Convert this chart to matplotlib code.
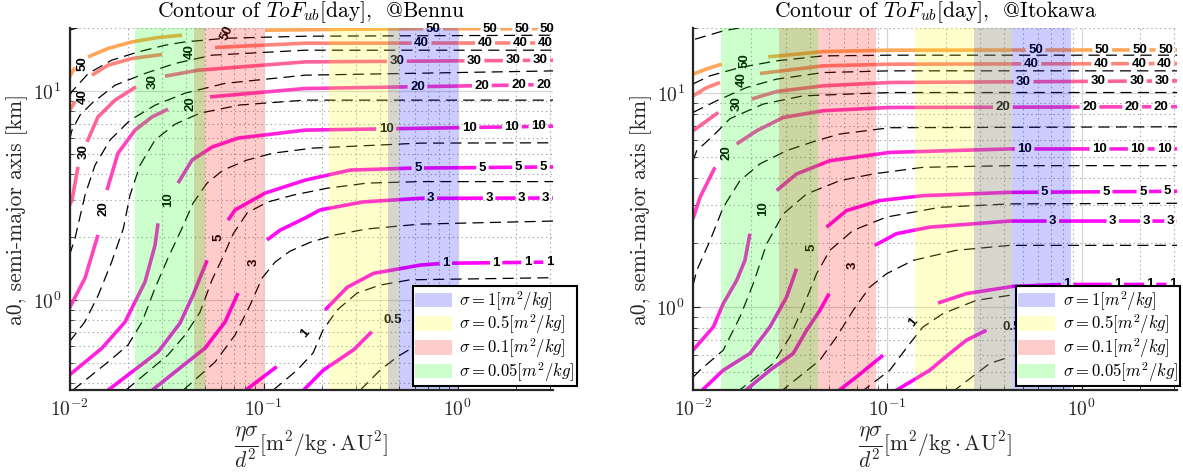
import numpy as np
import matplotlib
matplotlib.use("Agg")
import matplotlib.pyplot as plt
from matplotlib.patches import Patch

plt.rcParams['font.family'] = ['cmr10', 'DejaVu Serif']
plt.rcParams['mathtext.fontset'] = 'cm'
plt.rcParams['axes.formatter.use_mathtext'] = True
plt.rcParams['axes.unicode_minus'] = False
plt.rcParams['lines.scale_dashes'] = False

# sigma bands, drawn over eta*sigma/d^2 = sigma * [eta_lo, eta_hi]
sigmas = [1, 0.5, 0.1, 0.05]
band_colors = [(0, 0, 1), (1, 1, 0), (1, 0, 0), (0, 1, 0)]
bennu_eta = (0.436, 1.0)
itokawa_eta = (0.278, 0.88)

# ---------------- Bennu ----------------
# ToF_ub contours (solid), split where the inline labels sit
bennu_solid = {
    0.5: [[(0.1573, 0.363), (0.2033, 0.462), (0.2904, 0.577), (0.3611, 0.705)]],
    1: [[(0.0787, 0.363), (0.1169, 0.480)],
        [(0.2075, 0.896), (0.2694, 1.15), (0.3681, 1.342), (0.6406, 1.47), (0.842, 1.50), (3.2, 1.52)]],
    3: [[(0.02662, 0.37), (0.04995, 0.589), (0.06331, 0.785), (0.07388, 1.08)],
        [(0.1042, 1.94), (0.1216, 2.16), (0.1636, 2.47), (0.1955, 2.70), (0.3257, 2.95), (0.6406, 3.07), (3.2, 3.08)]],
    5: [[(0.01579, 0.37), (0.02859, 0.564), (0.03713, 0.776), (0.04331, 1.056), (0.05114, 1.55)],
        [(0.06561, 2.41), (0.0713, 2.70), (0.1018, 3.25), (0.1636, 3.75), (0.2792, 4.19), (0.569, 4.28), (3.2, 4.34)]],
    10: [[(0.01, 0.438), (0.01471, 0.589), (0.01932, 0.785), (0.02449, 1.22), (0.02759, 1.83), (0.02859, 2.33)],
         [(0.03625, 3.63), (0.04279, 4.68), (0.05426, 5.40), (0.07388, 5.96), (0.1636, 6.51), (3.2, 6.80)]],
    20: [[(0.01, 0.916), (0.01202, 1.274), (0.01402, 2.05)],
         [(0.0156, 3.36), (0.01778, 5.05), (0.02177, 6.51), (0.02662, 7.53), (0.03218, 8.20)],
         [(0.05298, 9.39), (0.1636, 10.30), (3.2, 10.77)]],
    30: [[(0.01, 2.85), (0.0103, 3.01), (0.01106, 4.34)],
         [(0.01231, 5.72), (0.01402, 7.53), (0.01716, 9.06), (0.02203, 10.49)],
         [(0.03106, 11.80), (0.04597, 12.60), (0.1636, 13.81), (3.2, 14.07)]],
    40: [[(0.01, 8.11), (0.01068, 8.89)],
         [(0.01306, 11.93), (0.01579, 13.32), (0.02101, 14.34), (0.02998, 14.98)],
         [(0.05623, 16.19), (0.1636, 16.97), (3.2, 17.02)]],
    50: [[(0.01, 11.70), (0.01068, 13.0)],
         [(0.01246, 14.59), (0.01579, 16.01), (0.02101, 17.22), (0.02859, 18.07), (0.03802, 18.53)],
         [(0.1018, 19.58), (0.2792, 19.80), (0.664, 19.91), (3.2, 19.91)]],
}

# reference contours (dashed)
bennu_dashed = {
    'top': [(0.01, 19.58), (0.01133, 20.3)],
    50: [(0.01, 9.46), (0.01026, 9.93), (0.0125, 12.16), (0.0165, 14.07), (0.02263, 15.42), (0.03106, 16.60),
         (0.03939, 17.22), (0.06406, 17.93), (0.1636, 18.33), (3.2, 18.53)],
    40: [(0.01, 5.84), (0.0103, 6.51), (0.01133, 7.68), (0.01306, 8.76), (0.01716, 10.68), (0.02449, 12.16),
         (0.03497, 13.57), (0.05426, 14.87), (0.1636, 15.71), (3.2, 15.71)],
    30: [(0.01, 1.64), (0.01068, 1.98), (0.01202, 3.18), (0.01353, 4.42), (0.01618, 5.84), (0.02051, 7.26),
         (0.02759, 8.57), (0.03939, 9.78), (0.06331, 10.9), (0.1636, 11.93), (3.2, 12.51)],
    20: [(0.01, 0.632), (0.01202, 0.788), (0.01407, 1.056), (0.0165, 1.525), (0.01894, 2.20), (0.02051, 3.18),
         (0.02308, 4.42), (0.02759, 5.84), (0.03497, 6.95), (0.04708, 7.85), (0.07566, 8.59), (0.1636, 9.06),
         (3.2, 9.06)],
    10: [(0.0104, 0.37), (0.01579, 0.505), (0.02002, 0.609), (0.02364, 0.785), (0.02759, 1.14), (0.03218, 1.59),
         (0.03802, 2.21), (0.04331, 2.91), (0.05114, 3.63), (0.06183, 4.19), (0.08221, 4.68), (0.1119, 5.05),
         (0.1799, 5.34), (0.6406, 5.64), (3.2, 5.66)],
    5: [(0.0195, 0.37), (0.03218, 0.546), (0.03939, 0.680), (0.04708, 0.876), (0.05426, 1.25), (0.06183, 1.61),
        (0.06963, 2.07), (0.08221, 2.61), (0.1042, 2.94), (0.142, 3.18), (0.2125, 3.43), (0.3416, 3.63),
        (0.6406, 3.69), (3.2, 3.69)],
    3: [(0.0385, 0.37), (0.05623, 0.505), (0.0713, 0.680), (0.0852, 0.946), (0.09824, 1.274), (0.1146, 1.52),
        (0.137, 1.715), (0.1737, 1.89), (0.2337, 2.05), (0.3416, 2.19), (0.6406, 2.31), (3.2, 2.39)],
    1: [(0.1119, 0.37), (0.1489, 0.462), (0.1799, 0.558), (0.2026, 0.719), (0.2393, 0.896), (0.3034, 1.08),
        (0.3986, 1.18), (0.569, 1.25), (3.2, 1.28)],
    0.5: [(0.3144, 0.37), (0.3986, 0.462), (0.4877, 0.534), (0.6406, 0.623)],
}

# labels on the curved part: (level, x, y, rotation)
bennu_steep_labels = [
    (50, 0.01174, 13.61, 90), (40, 0.01176, 9.39, 90), (30, 0.01176, 5.13, 90), (20, 0.01493, 2.75, 90),
    (50, 0.0646, 18.88, 65), (40, 0.04178, 15.42, 90), (30, 0.02673, 11.08, 90), (20, 0.04178, 8.73, 90),
    (10, 0.03224, 3.01, 90), (5, 0.05848, 1.99, 90), (3, 0.08933, 1.52, 90), (1, 0.1636, 0.695, 50),
    (0.5, 0.465, 0.802, 0),
]

# labels along the flat tail: x positions per level
bennu_flat_labels = {
    50: [0.7478, 1.471, 2.15, 2.893],
    40: [0.652, 1.386, 2.10, 2.825],
    30: [0.486, 1.221, 1.925, 2.663],
    20: [0.6205, 1.333, 2.057, 2.769],
    10: [0.4279, 1.150, 1.903, 2.609],
    5: [0.6234, 1.342, 2.057, 2.769],
    3: [0.7277, 1.453, 2.142, 2.849],
    1: [0.8695, 1.579, 2.290, 2.973],
}

# ---------------- Itokawa ----------------
itokawa_solid = {
    0.5: [[(0.1071, 0.40), (0.1654, 0.507), (0.2096, 0.607), (0.2554, 0.700), (0.3236, 0.779)]],
    1: [[(0.0548, 0.40), (0.06945, 0.472), (0.09515, 0.596)],
        [(0.1824, 1.044), (0.2554, 1.155), (0.4433, 1.249), (0.8014, 1.275), (3.2, 1.275)]],
    3: [[(0.01814, 0.40), (0.02488, 0.507), (0.03279, 0.607), (0.03842, 0.779), (0.04498, 0.965), (0.05022, 1.155)],
        [(0.08623, 1.94), (0.1115, 2.20), (0.1654, 2.36), (0.4264, 2.52), (3.2, 2.52)]],
    5: [[(0.01086, 0.40), (0.01431, 0.507), (0.01963, 0.607), (0.02488, 0.807), (0.03032, 1.113), (0.03412, 1.51)],
        [(0.04869, 2.36), (0.06169, 2.82), (0.09149, 3.14), (0.1528, 3.31), (0.4264, 3.43), (3.2, 3.47)]],
    10: [[(0.01, 0.629), (0.01272, 0.807), (0.01431, 1.037), (0.01678, 1.331), (0.01851, 1.65), (0.01963, 2.20)],
         [(0.02694, 3.50), (0.03412, 4.18), (0.05064, 4.82), (0.103, 5.27), (0.4264, 5.47), (3.2, 5.47)]],
    20: [[(0.01, 2.58), (0.01086, 3.25), (0.01298, 4.49)],
         [(0.01678, 5.77), (0.02126, 6.65), (0.02913, 7.67), (0.04677, 8.25), (0.103, 8.54), (3.2, 8.61)]],
    30: [[(0.01, 6.65), (0.01349, 8.09)],
         [(0.02003, 9.35), (0.02694, 10.14), (0.04677, 10.78), (0.103, 11.17), (3.2, 11.37)]],
    40: [[(0.01, 9.68), (0.01171, 10.55), (0.01377, 11.17)],
         [(0.02211, 12.30), (0.04677, 13.36), (0.103, 13.60), (3.2, 13.69)]],
    50: [[(0.01, 12.22), (0.0118, 12.94), (0.01405, 13.60)],
         [(0.02438, 14.71), (0.04677, 15.57), (0.103, 15.81), (3.2, 15.86)]],
}

itokawa_dashed = {
    'top': [(0.01024, 17.79), (0.01431, 19.45), (0.01851, 20.3)],
    50: [(0.01, 11.0), (0.01223, 12.0), (0.01744, 13.12), (0.02694, 14.10), (0.04677, 14.87), (0.103, 14.98),
         (3.2, 14.98)],
    40: [(0.01, 8.1), (0.01324, 9.18), (0.01888, 10.59), (0.02694, 11.58), (0.04677, 12.43), (0.103, 12.66),
         (3.2, 12.66)],
    30: [(0.01, 4.82), (0.01045, 5.37), (0.01272, 6.31), (0.01549, 7.57), (0.02298, 8.86), (0.0369, 9.68),
         (0.103, 10.03), (3.2, 10.03)],
    20: [(0.01, 1.262), (0.01045, 1.48), (0.01223, 2.04), (0.01431, 2.92), (0.01744, 3.89), (0.02211, 4.66),
         (0.03032, 5.37), (0.04325, 5.98), (0.057, 6.42), (0.103, 6.87), (3.2, 6.94)],
    10: [(0.01, 0.47), (0.01086, 0.507), (0.01431, 0.629), (0.01744, 0.898), (0.02042, 1.285), (0.02393, 1.97),
         (0.02913, 2.72), (0.03842, 3.37), (0.057, 3.89), (0.08452, 4.18), (0.1528, 4.49), (0.4264, 4.57),
         (3.2, 4.57)],
    5: [(0.0168, 0.40), (0.02588, 0.545), (0.03153, 0.725), (0.0369, 1.0), (0.04325, 1.43), (0.05064, 1.84),
        (0.06672, 2.28), (0.09906, 2.63), (0.1862, 2.92), (0.4264, 3.03), (3.2, 3.05)],
    3: [(0.028, 0.40), (0.04498, 0.565), (0.0548, 0.725), (0.06672, 0.965), (0.08128, 1.239), (0.09906, 1.43),
        (0.1357, 1.65), (0.2268, 1.84), (0.4264, 1.94), (3.2, 1.94)],
    1: [(0.073, 0.40), (0.103, 0.507), (0.1305, 0.675), (0.1528, 0.807), (0.1936, 0.932), (0.2874, 1.075),
        (0.4264, 1.134), (3.2, 1.155)],
    0.5: [(0.215, 0.40), (0.3365, 0.545), (0.4264, 0.585)],
}

itokawa_steep_labels = [
    (50, 0.01851, 14.10, 90), (40, 0.0178, 11.58, 90), (30, 0.01678, 8.86, 90), (20, 0.01491, 5.27, 90),
    (10, 0.02298, 2.87, 90), (5, 0.04076, 1.90, 90), (3, 0.06672, 1.56, 90), (1, 0.1357, 0.851, 50),
    (0.5, 0.4366, 0.807, 0),
]

itokawa_flat_labels = {
    50: [0.58, 1.278, 1.987, 2.703],
    40: [0.5512, 1.263, 1.970, 2.671],
    30: [0.5031, 1.213, 1.924, 2.599],
    20: [0.3938, 1.099, 1.823, 2.569],
    10: [0.509, 1.237, 1.947, 2.671],
    5: [0.6453, 1.34, 2.066, 2.777],
    3: [0.7119, 1.448, 2.151, 2.868],
    1: [0.8444, 1.537, 2.255, 2.947],
}

cmap = plt.get_cmap('spring')
label_font = dict(fontsize=9.5, fontweight='bold', family=['Liberation Sans', 'DejaVu Sans'])


def cut_line(xs, ys, gaps):
    # break a monotonic tail where labels are placed (log-log interpolation at gap ends)
    xs, ys = np.asarray(xs, float), np.asarray(ys, float)
    lx, ly = np.log10(xs), np.log10(ys)
    pts = [(x, y) for x, y in zip(xs, ys) if not any(a < x < b for a, b in gaps)]
    for a, b in gaps:
        ya = 10 ** np.interp(np.log10(a), lx, ly)
        yb = 10 ** np.interp(np.log10(b), lx, ly)
        pts += [(a, ya), (np.sqrt(a * b), np.nan), (b, yb)]
    pts.sort(key=lambda p: p[0])
    return [p[0] for p in pts], [p[1] for p in pts]


def draw_panel(ax, fig, title, ylims, eta, solid, dashed, steep_labels, flat_labels, leg_x):
    ax.set_xscale('log')
    ax.set_yscale('log')
    ax.set_xlim(0.01, 3.1)
    ax.set_ylim(*ylims)

    for key, pts in dashed.items():
        x, y = zip(*pts)
        ax.plot(x, y, color='black', lw=0.9, dashes=(8, 4.5), zorder=1.5)

    renderer = fig.canvas.get_renderer()
    for lv, segs in solid.items():
        col = cmap(lv / 77.0)
        for i, seg in enumerate(segs):
            x, y = zip(*seg)
            if i == len(segs) - 1 and lv in flat_labels:
                lx, ly = np.log10(x), np.log10(y)
                gaps = []
                for xl in flat_labels[lv]:
                    yl = 10 ** np.interp(np.log10(xl), lx, ly)
                    t = ax.text(xl, yl, '%g' % lv, ha='center', va='center', zorder=2.2, **label_font)
                    w = t.get_window_extent(renderer).width
                    cx, cy = ax.transData.transform((xl, yl))
                    a = ax.transData.inverted().transform((cx - w / 2 - 2.5, cy))[0]
                    b = ax.transData.inverted().transform((cx + w / 2 + 2.5, cy))[0]
                    gaps.append((a, b))
                x, y = cut_line(x, y, gaps)
            ax.plot(x, y, color=col, lw=2.6, solid_capstyle='butt', zorder=2)

    for lv, x, y, rot in steep_labels:
        ax.text(x, y, '%g' % lv, ha='center', va='center', rotation=rot,
                rotation_mode='anchor', zorder=2.2, **label_font)

    for s, c in zip(sigmas, band_colors):
        ax.axvspan(s * eta[0], s * eta[1], color=c, alpha=0.2, lw=0, zorder=2.3)

    ax.set_axisbelow(True)
    ax.grid(True, which='major', color='#d5d5d5', lw=0.9, ls='-')
    ax.grid(True, which='minor', color='#a8a8a8', lw=0.8, ls=(0, (1, 2.2)))
    ax.minorticks_on()
    ax.xaxis.set_minor_formatter(plt.NullFormatter())
    ax.yaxis.set_minor_formatter(plt.NullFormatter())
    ax.tick_params(which='both', direction='in', top=False, right=False, color='#262626',
                   labelcolor='#262626')
    ax.tick_params(which='major', length=5, width=0.8, labelsize=14, pad=6)
    ax.tick_params(which='minor', length=3, width=0.6)
    for side in ('top', 'right'):
        ax.spines[side].set_visible(False)
    for side in ('left', 'bottom'):
        ax.spines[side].set_linewidth(1.6)
        ax.spines[side].set_color('#262626')

    ax.set_title(title, fontsize=15.5, pad=8, color='black')
    ax.set_ylabel('a0, semi-major axis [km]', fontsize=15.5, color='#262626')
    ax.yaxis.set_label_coords(-0.085, 0.5)
    ax.set_xlabel(r'$\dfrac{\eta\sigma}{d^2}[\mathrm{m^2/kg\cdot AU^2}]$', fontsize=15.5, color='#262626')
    ax.xaxis.set_label_coords(0.5, -0.092)

    handles = [Patch(facecolor=c, alpha=0.2, edgecolor='none', label=r'$\sigma = %g[m^2/kg]$' % s)
               for s, c in zip(sigmas, band_colors)]
    leg = ax.legend(handles=handles, loc='lower right', bbox_to_anchor=(leg_x, 0.01), fontsize=12,
                    fancybox=False, edgecolor='black', framealpha=1, handlelength=2.2, handleheight=0.95,
                    labelspacing=0.0, borderpad=0.15, handletextpad=0.45, borderaxespad=0)
    leg.get_frame().set_linewidth(1.5)
    leg.set_zorder(10)


fig = plt.figure(figsize=(11.83, 4.73), dpi=100)
ax1 = fig.add_axes([69.5 / 1183, 1 - 390 / 473, 483.5 / 1183, 361.7 / 473])
ax2 = fig.add_axes([693 / 1183, 1 - 390 / 473, 484 / 1183, 361.7 / 473])

draw_panel(ax1, fig, r'Contour of $ToF_{ub}$[day],  @Bennu', (0.371, 20), bennu_eta,
           bennu_solid, bennu_dashed, bennu_steep_labels, bennu_flat_labels, 1.049)
draw_panel(ax2, fig, r'Contour of $ToF_{ub}$[day],  @Itokawa', (0.41, 20), itokawa_eta,
           itokawa_solid, itokawa_dashed, itokawa_steep_labels, itokawa_flat_labels, 1.006)

fig.savefig('out.png', dpi=100)
